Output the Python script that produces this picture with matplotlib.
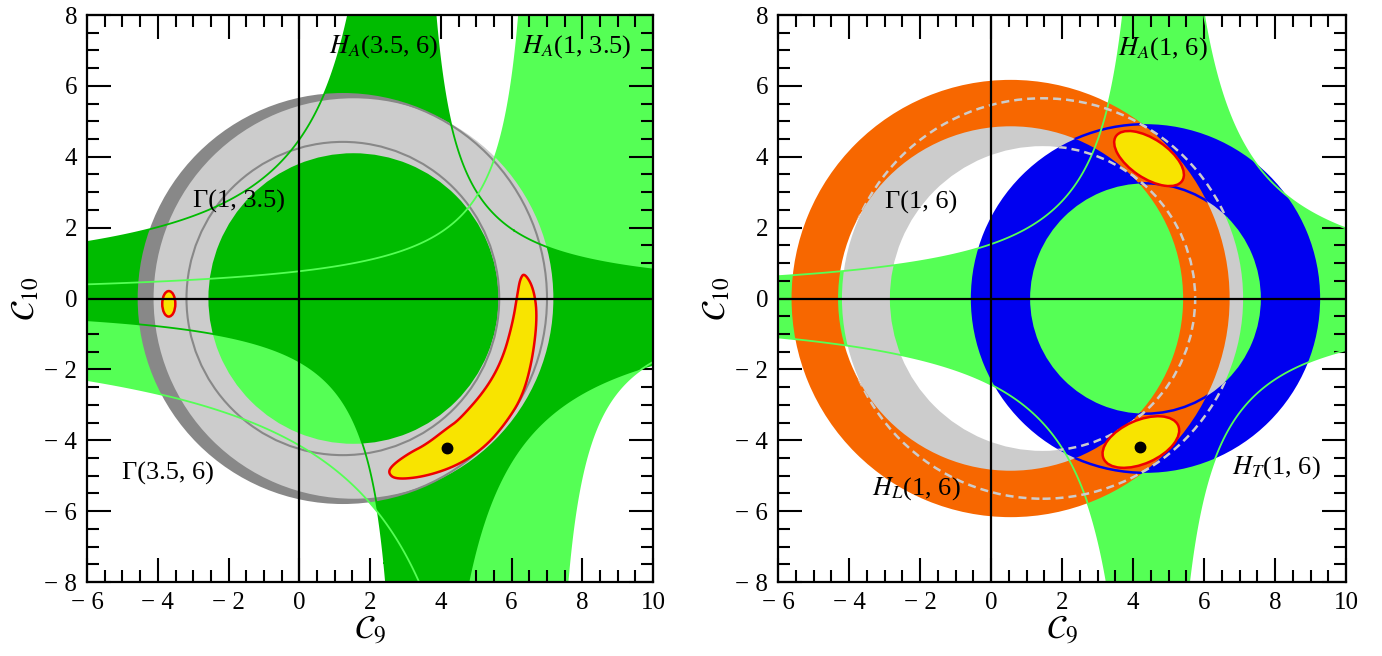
import numpy as np
import matplotlib
matplotlib.use('Agg')
import matplotlib.pyplot as plt
from matplotlib.patches import Wedge, Circle, Ellipse, Polygon
from matplotlib.ticker import MultipleLocator, FuncFormatter

plt.rcParams['font.family'] = ['Liberation Serif', 'DejaVu Serif']
plt.rcParams['mathtext.fontset'] = 'stix'

# colours
c_dgreen = '#00bb00'
c_lgreen = '#55ff55'
c_lgrey = '#cccccc'
c_dgrey = '#888888'
c_orange = '#f76700'
c_blue = '#0000f0'
c_yellow = '#f8e400'
c_red = '#ee0000'

# hyperbola boundaries (a, b, c):  (C9 - a) * (C10 - b) = c
ha_35_6_lo = (3.10, 0.10, -13.6)
ha_35_6_hi = (3.15, 0.00, 5.6)
ha_1_35_lo = (6.893, -0.025, -5.48)
ha_1_35_hi = (6.858, -0.19, 27.13)
ha_1_6_lo = (4.64, -0.069, -7.44)
ha_1_6_hi = (4.64, -0.069, 10.96)

# annuli (cx, cy, r_in, r_out)
gam_35_6 = (1.23, 0.0, 4.42, 5.77)
gam_1_35 = (1.53, 0.0, 4.10, 5.65)
gam_1_6 = (1.45, 0.0, 4.30, 5.65)
hl_1_6 = (0.55, 0.0, 4.86, 6.17)
ht_1_6 = (4.35, 0.0, 3.25, 4.92)

# combined fit regions (outline of the left banana, outer edge then inner edge)
banana_x = [6.36, 6.62, 6.73, 6.59, 6.31, 5.84, 5.27, 4.52, 3.58, 2.73, 2.50,
            2.64, 3.11, 3.58, 4.19, 4.52, 5.27, 5.74, 6.03, 6.17, 6.24]
banana_y = [0.73, 0.30, -0.50, -1.72, -2.76, -3.51, -4.17, -4.69, -5.02, -5.11, -4.92,
            -4.69, -4.36, -4.12, -3.65, -3.42, -2.57, -1.72, -0.69, 0.16, 0.55]
small_fit = (-3.69, -0.15, 0.37, 0.72, 0.0)       # cx, cy, width, height, angle
right_fits = [(4.45, 3.95, 2.25, 1.10, -34.0),
              (4.22, -4.05, 2.30, 1.22, 24.0)]
best_left = (4.18, -4.21)
best_right = (4.20, -4.18)

labels_left = [('$H_A$(3.5, 6)', 0.85, 7.1), ('$H_A$(1, 3.5)', 6.3, 7.1),
               ('Γ(1, 3.5)', -3.0, 2.75), ('Γ(3.5, 6)', -5.0, -4.95)]
labels_right = [('$H_A$(1, 6)', 3.58, 7.05), ('Γ(1, 6)', -3.0, 2.7),
                ('$H_L$(1, 6)', -3.35, -5.35), ('$H_T$(1, 6)', 6.8, -4.78)]

gx = np.linspace(-6, 10, 1201)
gy = np.linspace(-8, 8, 1201)
X, Y = np.meshgrid(gx, gy)


def band(lo, hi):
    f1 = (X - lo[0]) * (Y - lo[1]) - lo[2]
    f2 = hi[2] - (X - hi[0]) * (Y - hi[1])
    return np.minimum(f1, f2)


def fill_band(ax, lo, hi, color, z):
    F = band(lo, hi)
    ax.contourf(X, Y, F, levels=[0, F.max() + 1], colors=[color], zorder=z, antialiased=True)


def hyp_lines(ax, h, color, lw, z, clip=None):
    cs = ax.contour(X, Y, (X - h[0]) * (Y - h[1]) - h[2], levels=[0], colors=[color],
                    linewidths=lw, zorder=z)
    if clip is not None:
        cs.set_clip_path(clip)


def ring(ax, a, color, z, add=True):
    w = Wedge((a[0], a[1]), a[3], 0, 360, width=a[3] - a[2], facecolor=color,
              edgecolor='none', zorder=z, transform=ax.transData)
    if add:
        ax.add_patch(w)
    return w


def ring_lines(ax, a, color, lw, z, ls='-', clip=None):
    for r in (a[2], a[3]):
        c = Circle((a[0], a[1]), r, fill=False, edgecolor=color, lw=lw, ls=ls, zorder=z)
        ax.add_patch(c)
        if clip is not None:
            c.set_clip_path(clip)


def chaikin(x, y, n=3):
    p = np.column_stack([x, y])
    for _ in range(n):
        q = np.roll(p, -1, axis=0)
        p = np.column_stack([0.75 * p + 0.25 * q, 0.25 * p + 0.75 * q]).reshape(-1, 2)
    return p


def fmt(v, pos):
    if abs(v) < 1e-9:
        return '0'
    s = '%g' % abs(v)
    return ('\u2212 ' + s) if v < 0 else s


def style(ax):
    ax.set_xlim(-6, 10)
    ax.set_ylim(-8, 8)
    ax.xaxis.set_major_locator(MultipleLocator(2))
    ax.yaxis.set_major_locator(MultipleLocator(2))
    ax.xaxis.set_minor_locator(MultipleLocator(0.5))
    ax.yaxis.set_minor_locator(MultipleLocator(0.5))
    ax.xaxis.set_major_formatter(FuncFormatter(fmt))
    ax.yaxis.set_major_formatter(FuncFormatter(fmt))
    ax.tick_params(which='both', direction='in', top=True, right=True, width=1.5,
                   labelsize=18, pad=7)
    ax.tick_params(which='major', length=17)
    ax.tick_params(which='minor', length=8.5)
    for s in ax.spines.values():
        s.set_linewidth(1.6)
        s.set_zorder(10)
    ax.axhline(0, color='black', lw=1.6, zorder=6)
    ax.axvline(0, color='black', lw=1.6, zorder=6)
    ax.set_xlabel(r'$\mathcal{C}_9$', fontsize=24, labelpad=0)
    ax.set_ylabel(r'$\mathcal{C}_{10}$', fontsize=24, labelpad=2)


fig = plt.figure(figsize=(13.82, 6.56), dpi=100)
ax1 = fig.add_axes([0.0630, 0.1128, 0.4096, 0.8643])
ax2 = fig.add_axes([0.5630, 0.1128, 0.4110, 0.8643])

# ---------------- left panel
fill_band(ax1, ha_1_35_lo, ha_1_35_hi, c_lgreen, 1)
fill_band(ax1, ha_35_6_lo, ha_35_6_hi, c_dgreen, 2)
ring(ax1, gam_35_6, c_dgrey, 3)
ring(ax1, gam_1_35, c_lgrey, 3.5)
ring_lines(ax1, gam_35_6, c_dgrey, 1.5, 4)
hyp_lines(ax1, ha_35_6_lo, c_dgreen, 1.3, 4.5)
hyp_lines(ax1, ha_35_6_hi, c_dgreen, 1.3, 4.5)
hyp_lines(ax1, ha_1_35_lo, c_lgreen, 1.3, 4.6)
hyp_lines(ax1, ha_1_35_hi, c_lgreen, 1.3, 4.6)

pts = chaikin(banana_x, banana_y)
ax1.add_patch(Polygon(pts, closed=True, facecolor=c_yellow, edgecolor=c_red, lw=1.8, zorder=5))
ax1.add_patch(Ellipse(small_fit[:2], small_fit[2], small_fit[3], angle=small_fit[4],
                      facecolor=c_yellow, edgecolor=c_red, lw=1.8, zorder=5))
ax1.plot(*best_left, 'o', color='black', ms=7.5, zorder=8)
for t, x, y in labels_left:
    ax1.text(x, y, t, fontsize=19, ha='left', va='center', zorder=9)
style(ax1)

# ---------------- right panel
fill_band(ax2, ha_1_6_lo, ha_1_6_hi, c_lgreen, 1)
ring(ax2, gam_1_6, c_lgrey, 2)
ring(ax2, ht_1_6, c_blue, 3)
ring(ax2, hl_1_6, c_orange, 3.5)
hyp_lines(ax2, ha_1_6_lo, c_lgreen, 1.3, 4.6)
hyp_lines(ax2, ha_1_6_hi, c_lgreen, 1.3, 4.6)
ring_lines(ax2, ht_1_6, c_blue, 1.8, 4.4, clip=ring(ax2, hl_1_6, 'none', 0, add=False))
for cl in (ring(ax2, hl_1_6, 'none', 0, add=False), ring(ax2, ht_1_6, 'none', 0, add=False)):
    ring_lines(ax2, gam_1_6, c_lgrey, 1.8, 4.8, ls=(0, (3.2, 2.0)), clip=cl)

for cx, cy, w, h, ang in right_fits:
    ax2.add_patch(Ellipse((cx, cy), w, h, angle=ang, facecolor=c_yellow, edgecolor=c_red,
                          lw=1.8, zorder=5))
ax2.plot(*best_right, 'o', color='black', ms=7.5, zorder=8)
for t, x, y in labels_right:
    ax2.text(x, y, t, fontsize=19, ha='left', va='center', zorder=9)
style(ax2)

fig.savefig('out.png', dpi=100)
